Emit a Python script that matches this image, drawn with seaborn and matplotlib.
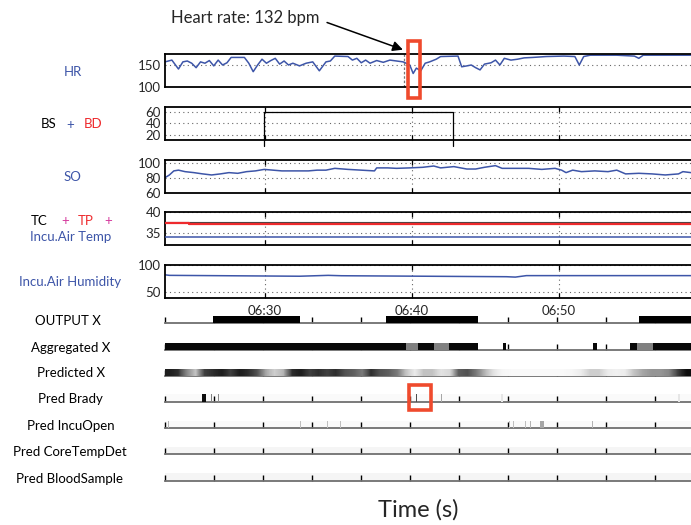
import numpy as np
import pandas as pd
import seaborn as sns
import matplotlib.pyplot as plt
from matplotlib.patches import Rectangle

# --- 1. Data (time in seconds from start of window, ~06:23:12) ---
t_end = 2147
clock_ticks = [408, 1008, 1608]
clock_labels = ["06:30", "06:40", "06:50"]

hr_time = [0, 28, 55, 73, 91, 109, 127, 145, 163, 181, 199, 217, 235, 253, 270, 324, 342, 360, 378, 396,
           414, 432, 450, 468, 486, 504, 522, 549, 576, 603, 630, 657, 675, 693, 747, 765, 783, 801, 819, 837,
           864, 891, 918, 945, 972, 999, 1013, 1026, 1044, 1062, 1080, 1107, 1125, 1196, 1211, 1232, 1250, 1268, 1286, 1304,
           1331, 1349, 1367, 1385, 1412, 1439, 1466, 1502, 1556, 1628, 1673, 1691, 1709, 1736, 1844, 1916, 1934, 1952, 2147]
hr_vals = [157, 161, 141, 157, 159, 154, 144, 157, 154, 160, 148, 161, 150, 155, 167, 167, 154, 135, 150, 163,
           154, 160, 165, 152, 159, 150, 154, 148, 154, 157, 137, 157, 159, 170, 169, 161, 165, 155, 161, 154,
           160, 156, 161, 159, 157, 150, 131, 143, 137, 154, 157, 163, 169, 170, 146, 148, 150, 144, 139, 152,
           155, 161, 150, 165, 161, 163, 166, 167, 169, 170, 169, 150, 169, 172, 172, 170, 165, 172, 172]

bs_time = [405, 405, 1175, 1175]
bs_vals = [0, 60, 60, 0]

so_time = [0, 18, 36, 55, 82, 118, 154, 190, 226, 261, 297, 333, 369, 405, 441, 477, 513, 549, 585, 621,
           657, 693, 747, 801, 855, 864, 909, 945, 999, 1052, 1097, 1125, 1179, 1232, 1268, 1304, 1349, 1376, 1430, 1484,
           1538, 1592, 1619, 1637, 1664, 1700, 1754, 1808, 1844, 1880, 1934, 1988, 2042, 2096, 2114, 2147]
so_vals = [80, 83.6, 89, 90, 88, 86.7, 85, 83.6, 85, 86.7, 85.8, 88, 89, 91, 90, 89, 89, 89, 89, 90,
           90, 92.4, 91, 90, 89, 93, 93, 92.4, 93, 93.8, 95.5, 93, 94.7, 91.5, 91.5, 93.8, 96, 92.4, 92.4, 92.4,
           91, 92.4, 90, 86.7, 90, 88, 89, 88, 90, 85, 85.8, 85, 83.6, 85, 88, 86.7]

temp_time = [0, 100, 540, 1400, 2147]
tc_vals = [37.6, 37.6, 37.6, 37.55, 37.55]
tp_vals = [37.35, 37.25, 37.2, 37.05, 37.05]
air_vals = [34.0, 34.0, 33.95, 34.0, 34.0]

hum_time = [0, 18, 549, 666, 720, 1394, 1430, 1475, 2147]
hum_vals = [82, 81, 79.4, 81, 80.3, 78.5, 77.8, 80.5, 80.5]

output_start = [197, 901, 1934]
output_end = [552, 1277, 2147]
output_level = [1, 1, 1]

agg_start = [0, 983, 1034, 1098, 1160, 1378, 1745, 1898, 1925, 1991]
agg_end = [983, 1034, 1098, 1160, 1278, 1392, 1762, 1925, 1991, 2147]
agg_level = [0.97, 0.5, 0.97, 0.5, 0.97, 0.97, 0.97, 0.97, 0.5, 0.97]

pred_x = [0.9, 0.85, 0.55, 0.35, 0.8, 0.85, 0.9, 0.8, 0.9, 0.85, 0.75, 0.45, 0.3, 0.4, 0.85, 0.9, 0.8, 0.85, 0.8, 0.85,
          0.75, 0.7, 0.6, 0.85, 0.75, 0.7, 0.6, 0.35, 0.15, 0.35, 0.35, 0.2, 0.25, 0.7, 0.75, 0.6, 0.4, 0.2, 0.08, 0.05,
          0.05, 0.05, 0.05, 0.05, 0.05, 0.05, 0.08, 0.15, 0.3, 0.3, 0.15, 0.12, 0.15, 0.35, 0.45, 0.5, 0.5, 0.55, 0.8, 0.95]

brady_start = [153, 188, 216, 1024, 1128, 1372, 2095]
brady_end = [168, 191, 219, 1030, 1132, 1380, 2102]
brady_level = [0.95, 0.5, 0.45, 0.7, 0.35, 0.1, 0.1]

incu_start = [12, 552, 661, 716, 1406, 1420, 1470, 1491, 1531, 1744]
incu_end = [16, 556, 665, 720, 1410, 1424, 1474, 1495, 1547, 1748]
incu_level = [0.3, 0.25, 0.25, 0.25, 0.25, 0.25, 0.25, 0.3, 0.35, 0.3]

strip_labels = ["OUTPUT X", "Aggregated X", "Predicted X", "Pred Brady",
                "Pred IncuOpen", "Pred CoreTempDet", "Pred BloodSample"]
strip_base = [0, 0, 0, 0.02, 0.02, 0.04, 0.04]

# --- 2. Style ---
sns.set_style("white")
plt.rcParams['font.family'] = ['Lato', 'DejaVu Sans']
blue = "#3D55A8"
red = "#EE2A2D"
magenta = "#D63C9E"
box_red = "#EF4A2D"

W, H = 691, 525
fig = plt.figure(figsize=(W / 100, H / 100), dpi=100)


def panel(top_px, bottom_px):
    return fig.add_axes([165 / W, 1 - bottom_px / H, (W - 165) / W, (bottom_px - top_px) / H])


def style_panel(ax, ylim, yticks, vgrid=True, xticks=True):
    ax.set_xlim(0, t_end)
    ax.set_ylim(*ylim)
    ax.set_yticks(yticks)
    ax.set_yticklabels([str(v) for v in yticks])
    ax.set_xticks(clock_ticks if xticks else [])
    ax.set_xticklabels([])
    ax.tick_params(axis='x', direction='in', top=True, bottom=True, length=3.6, width=0.9, color='black')
    ax.tick_params(axis='y', direction='in', length=0, pad=3, labelsize=9.5)
    ax.spines['right'].set_visible(False)
    for s in ['top', 'bottom', 'left']:
        ax.spines[s].set_linewidth(1.3)
        ax.spines[s].set_color('black')
    ax.grid(axis='y', linestyle=(0, (1, 3)), color='#666666', linewidth=0.8)
    if vgrid:
        ax.grid(axis='x', linestyle=(0, (1, 3)), color='#666666', linewidth=0.8)
    ax.set_xlabel('')
    ax.set_ylabel('')


def trace(ax, t, v, **kw):
    df = pd.DataFrame({"t": t, "v": v})
    sns.lineplot(data=df, x="t", y="v", estimator=None, errorbar=None, sort=False, ax=ax, **kw)


# --- 3. Signal panels ---
ax_hr = panel(54.3, 87.3)
trace(ax_hr, hr_time, hr_vals, color=blue, lw=1.1)
ax_hr.axvline(975, color='#777777', linestyle=(0, (2, 1.5)), lw=0.9)
style_panel(ax_hr, (100, 174), [100, 150], vgrid=False, xticks=False)

ax_bs = panel(107.3, 140)
trace(ax_bs, bs_time, bs_vals, color='black', lw=0.9, clip_on=False)
style_panel(ax_bs, (10.6, 68.2), [20, 40, 60])

ax_so = panel(160, 192.7)
trace(ax_so, so_time, so_vals, color=blue, lw=1.1)
style_panel(ax_so, (60, 103.5), [60, 80, 100])

ax_tp = panel(212.3, 245)
trace(ax_tp, temp_time, tc_vals, color='#444444', lw=0.8, drawstyle='steps-post', zorder=2)
trace(ax_tp, temp_time, tp_vals, color=red, lw=1.6, drawstyle='steps-post', zorder=4)
trace(ax_tp, temp_time, air_vals, color=blue, lw=1.1, drawstyle='steps-post', zorder=3)
style_panel(ax_tp, (32, 40), [35, 40])

ax_hu = panel(265, 297.7)
trace(ax_hu, hum_time, hum_vals, color=blue, lw=1.1)
style_panel(ax_hu, (40, 100), [50, 100])
ax_hu.set_xticklabels(clock_labels)
ax_hu.tick_params(axis='x', labelsize=9.5, pad=5)

# --- 4. Prediction strips ---
baselines = [323.3, 350, 376, 401.7, 428.3, 454.3, 480.7]
segments = {0: (output_start, output_end, output_level),
            1: (agg_start, agg_end, agg_level),
            3: (brady_start, brady_end, brady_level),
            4: (incu_start, incu_end, incu_level)}
strip_axes = []
for i, base in enumerate(baselines):
    ax = panel(base - 7.5, base)
    ax.set_xlim(0, t_end)
    ax.set_ylim(0, 1)
    if strip_base[i] > 0:
        ax.axvspan(0, t_end, color=str(1 - strip_base[i]), lw=0, zorder=0.5)
    if i in segments:
        for s, e, lv in zip(*segments[i]):
            ax.axvspan(s, e, color=str(1 - lv), lw=0, zorder=3)
    if i == 2:
        ax.imshow(np.array([pred_x]), cmap='Greys', vmin=0, vmax=1, aspect='auto',
                  extent=(0, t_end, 0, 1), interpolation='bilinear', zorder=3)
    ax.set_xticks(np.arange(0, t_end, 200))
    ax.set_xticklabels([])
    ax.set_yticks([])
    for s in ['top', 'right', 'left']:
        ax.spines[s].set_visible(False)
    ax.spines['bottom'].set_color('#707070')
    ax.spines['bottom'].set_linewidth(1.3)
    ax.tick_params(axis='x', bottom=True, direction='in', length=4.2, width=1.0, color='black')
    ax.grid(False)
    strip_axes.append(ax)

# --- 5. Annotations ---
ax_hr.annotate("Heart rate: 132 bpm", xy=(971, 1.14), xycoords=ax_hr.get_xaxis_transform(),
               xytext=(329, 2.09), textcoords=ax_hr.get_xaxis_transform(),
               ha='center', va='center', fontsize=12,
               arrowprops=dict(arrowstyle='-|>', color='black', lw=1.1, mutation_scale=15,
                               shrinkA=3, shrinkB=0, relpos=(1, 0.4)))
ax_hr.add_patch(Rectangle((991, -0.315), 49, 1.725, transform=ax_hr.get_xaxis_transform(),
                          fill=False, edgecolor=box_red, lw=2.6, clip_on=False, zorder=5))
ax_br = strip_axes[3]
ax_br.add_patch(Rectangle((996, -1.1), 90, 3.3, transform=ax_br.get_xaxis_transform(),
                          fill=False, edgecolor=box_red, lw=2.6, clip_on=False, zorder=5))

# --- 6. Row labels ---
def flabel(x, y, s, color='black', size=9.5):
    fig.text(x / W, 1 - y / H, s, color=color, fontsize=size, ha='center', va='center')

flabel(72.7, 71.7, "HR", blue)
flabel(49, 124.5, "BS")
flabel(70, 124.5, "+", blue)
flabel(93, 124.5, "BD", red)
flabel(72, 177, "SO", blue)
flabel(39.6, 221, "TC")
flabel(65, 221, "+", magenta)
flabel(86, 221, "TP", red)
flabel(108, 221, "+", magenta)
flabel(70.5, 237.3, "Incu.Air Temp", blue)
flabel(70.5, 281.7, "Incu.Air Humidity", blue)
label_y = [321, 347.7, 372.7, 399, 426, 452.3, 479]
label_x = [68, 71, 71, 70.5, 70.5, 69.6, 69]
for lx, ly, name in zip(label_x, label_y, strip_labels):
    flabel(lx, ly, name)

fig.text(418.5 / W, 1 - 510 / H, "Time (s)", fontsize=17, ha='center', va='center')

plt.savefig("out.png", dpi=100)
